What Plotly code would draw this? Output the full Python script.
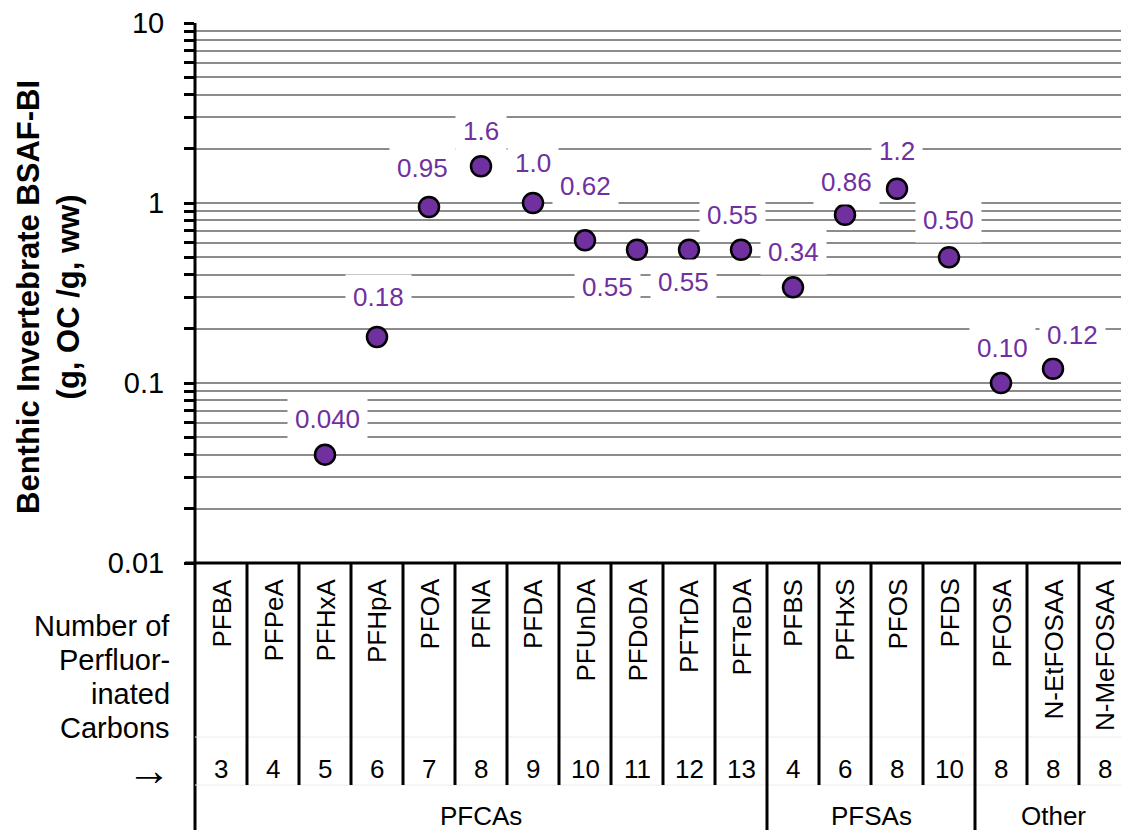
import numpy as np
import plotly.graph_objects as go

# ---------------- data ----------------
compounds = ["PFBA", "PFPeA", "PFHxA", "PFHpA", "PFOA", "PFNA", "PFDA", "PFUnDA",
             "PFDoDA", "PFTrDA", "PFTeDA", "PFBS", "PFHxS", "PFOS", "PFDS",
             "PFOSA", "N-EtFOSAA", "N-MeFOSAA"]
bsaf = [None, None, 0.040, 0.18, 0.95, 1.6, 1.0, 0.62, 0.55, 0.55, 0.55,
        0.34, 0.86, 1.2, 0.50, 0.10, 0.12, None]
bsaf_labels = ["", "", "0.040", "0.18", "0.95", "1.6", "1.0", "0.62", "0.55", "0.55",
               "0.55", "0.34", "0.86", "1.2", "0.50", "0.10", "0.12", ""]
carbons = ["3", "4", "5", "6", "7", "8", "9", "10", "11", "12", "13",
           "4", "6", "8", "10", "8", "8", "8"]
group_names = ["PFCAs", "PFSAs", "Other"]
group_first = [0, 11, 15]
group_last = [10, 14, 17]
row_header = ["Number of", "Perfluor-", "inated", "Carbons"]

# label offsets in pixels (dx right, dy down)
label_dx = [0, 0, 2, 1, -7, 0, 0, 0, -30, -6, -9, 0, 1, 0, -1, 1, 19, 0]
label_dy = [0, 0, -36, -40, -39, -35, -40, -54, 37, 32, -35, -35, -33, -38, -37, -35, -34, 0]

PURPLE = "#7030A0"
FONT = "Arial, Liberation Sans, sans-serif"
W, H = 1121, 830
L, T = 195, 23
PLOT_H = 540
COL_W = 52.0
n = len(compounds)
x_idx = list(range(n))


def py(p):
    """pixel y -> paper y"""
    return (T + PLOT_H - p) / PLOT_H


def px(p):
    """pixel x -> paper x"""
    return (p - L) / (W - L)


fig = go.Figure()
fig.add_trace(go.Scatter(
    x=x_idx, y=bsaf, mode="markers",
    marker=dict(size=20, color=PURPLE, line=dict(color="black", width=2.5)),
    showlegend=False, hoverinfo="skip"))

# y ticks: every 1..9 per decade
tickvals, ticktext = [], []
for dec in [0.01, 0.1, 1]:
    for m in range(1, 10):
        tickvals.append(round(dec * m, 4))
        ticktext.append(("%g" % (dec * m)) if m == 1 else "")
tickvals.append(10)
ticktext.append("10")

fig.update_layout(
    width=W, height=H,
    margin=dict(l=L, r=0, t=T, b=H - T - PLOT_H),
    paper_bgcolor="white", plot_bgcolor="white",
    font=dict(family=FONT, size=26, color="black"),
    xaxis=dict(range=[-0.5, -0.5 + (W - L) / COL_W], showticklabels=False,
               showgrid=False, zeroline=False, showline=False, ticks=""),
    yaxis=dict(type="log", range=[-2, 1], tickvals=tickvals, ticktext=ticktext,
               ticks="outside", ticklen=10, tickwidth=2.5, tickcolor="black",
               ticklabelstandoff=14,
               showgrid=True, gridcolor="#8c8c8c", gridwidth=1.5,
               showline=False, zeroline=False,
               tickfont=dict(size=29, family=FONT, color="black")),
)

shapes = []
# y axis line, extended through table
shapes.append(dict(type="line", xref="paper", yref="paper", x0=0, x1=0,
                   y0=1, y1=py(H), line=dict(color="black", width=3)))
# x axis line at bottom of plot
shapes.append(dict(type="line", xref="paper", yref="paper", x0=px(185), x1=1,
                   y0=0, y1=0, line=dict(color="black", width=3)))
# faint table row separators
for yy in [737, 785]:
    shapes.append(dict(type="line", xref="paper", yref="paper", x0=0, x1=1,
                       y0=py(yy), y1=py(yy), line=dict(color="#ececec", width=1)))
# column dividers
group_bounds = [g + 0.5 for g in group_last[:-1]]
for k in range(n - 1):
    xv = k + 0.5
    y_end = H if xv in group_bounds else 785
    shapes.append(dict(type="line", xref="x", yref="paper", x0=xv, x1=xv,
                       y0=0, y1=py(y_end), line=dict(color="black", width=3)))
fig.update_layout(shapes=shapes)

ann = []
# data labels
for i, (v, t) in enumerate(zip(bsaf, bsaf_labels)):
    if v is None:
        continue
    ann.append(dict(x=i, y=np.log10(v), xref="x", yref="y", text=t, showarrow=False,
                    xshift=label_dx[i], yshift=-label_dy[i],
                    font=dict(size=26, color=PURPLE, family=FONT),
                    bgcolor="white", borderpad=7))
# compound names (rotated)
for i, c in enumerate(compounds):
    ann.append(dict(x=i, y=py(577), xref="x", yref="paper", text=c, showarrow=False,
                    textangle=-90, yanchor="top", xanchor="center",
                    font=dict(size=26, color="black", family=FONT)))
# carbon numbers
for i, c in enumerate(carbons):
    ann.append(dict(x=i, y=py(769), xref="x", yref="paper", text=c, showarrow=False,
                    yanchor="middle", xanchor="center",
                    font=dict(size=26, color="black", family=FONT)))
# group names
for g, a, b in zip(group_names, group_first, group_last):
    ann.append(dict(x=(a + b) / 2, y=py(816), xref="x", yref="paper", text=g,
                    showarrow=False, yanchor="middle", xanchor="center",
                    font=dict(size=26, color="black", family=FONT)))
# left row header
for j, line in enumerate(row_header):
    ann.append(dict(x=px(172), y=py(626 + 34 * j), xref="paper", yref="paper",
                    text=line, showarrow=False, xanchor="right", yanchor="middle",
                    font=dict(size=29, color="black", family=FONT)))
ann.append(dict(x=px(173), y=py(769), xref="paper", yref="paper", text="→",
                showarrow=False, xanchor="right", yanchor="middle",
                font=dict(size=44, color="black", family=FONT)))
# y axis title
ann.append(dict(x=px(48), y=py(297), xref="paper", yref="paper",
                text="<b>Benthic Invertebrate BSAF-BI</b><br><b>(g, OC /g, ww)</b>",
                showarrow=False, textangle=-90, xanchor="center", yanchor="middle",
                align="center", font=dict(size=31, color="black", family=FONT)))
fig.update_layout(annotations=ann)

fig.write_html("out.html", config={"displayModeBar": False},
               post_script="document.body.style.margin='0px';")
